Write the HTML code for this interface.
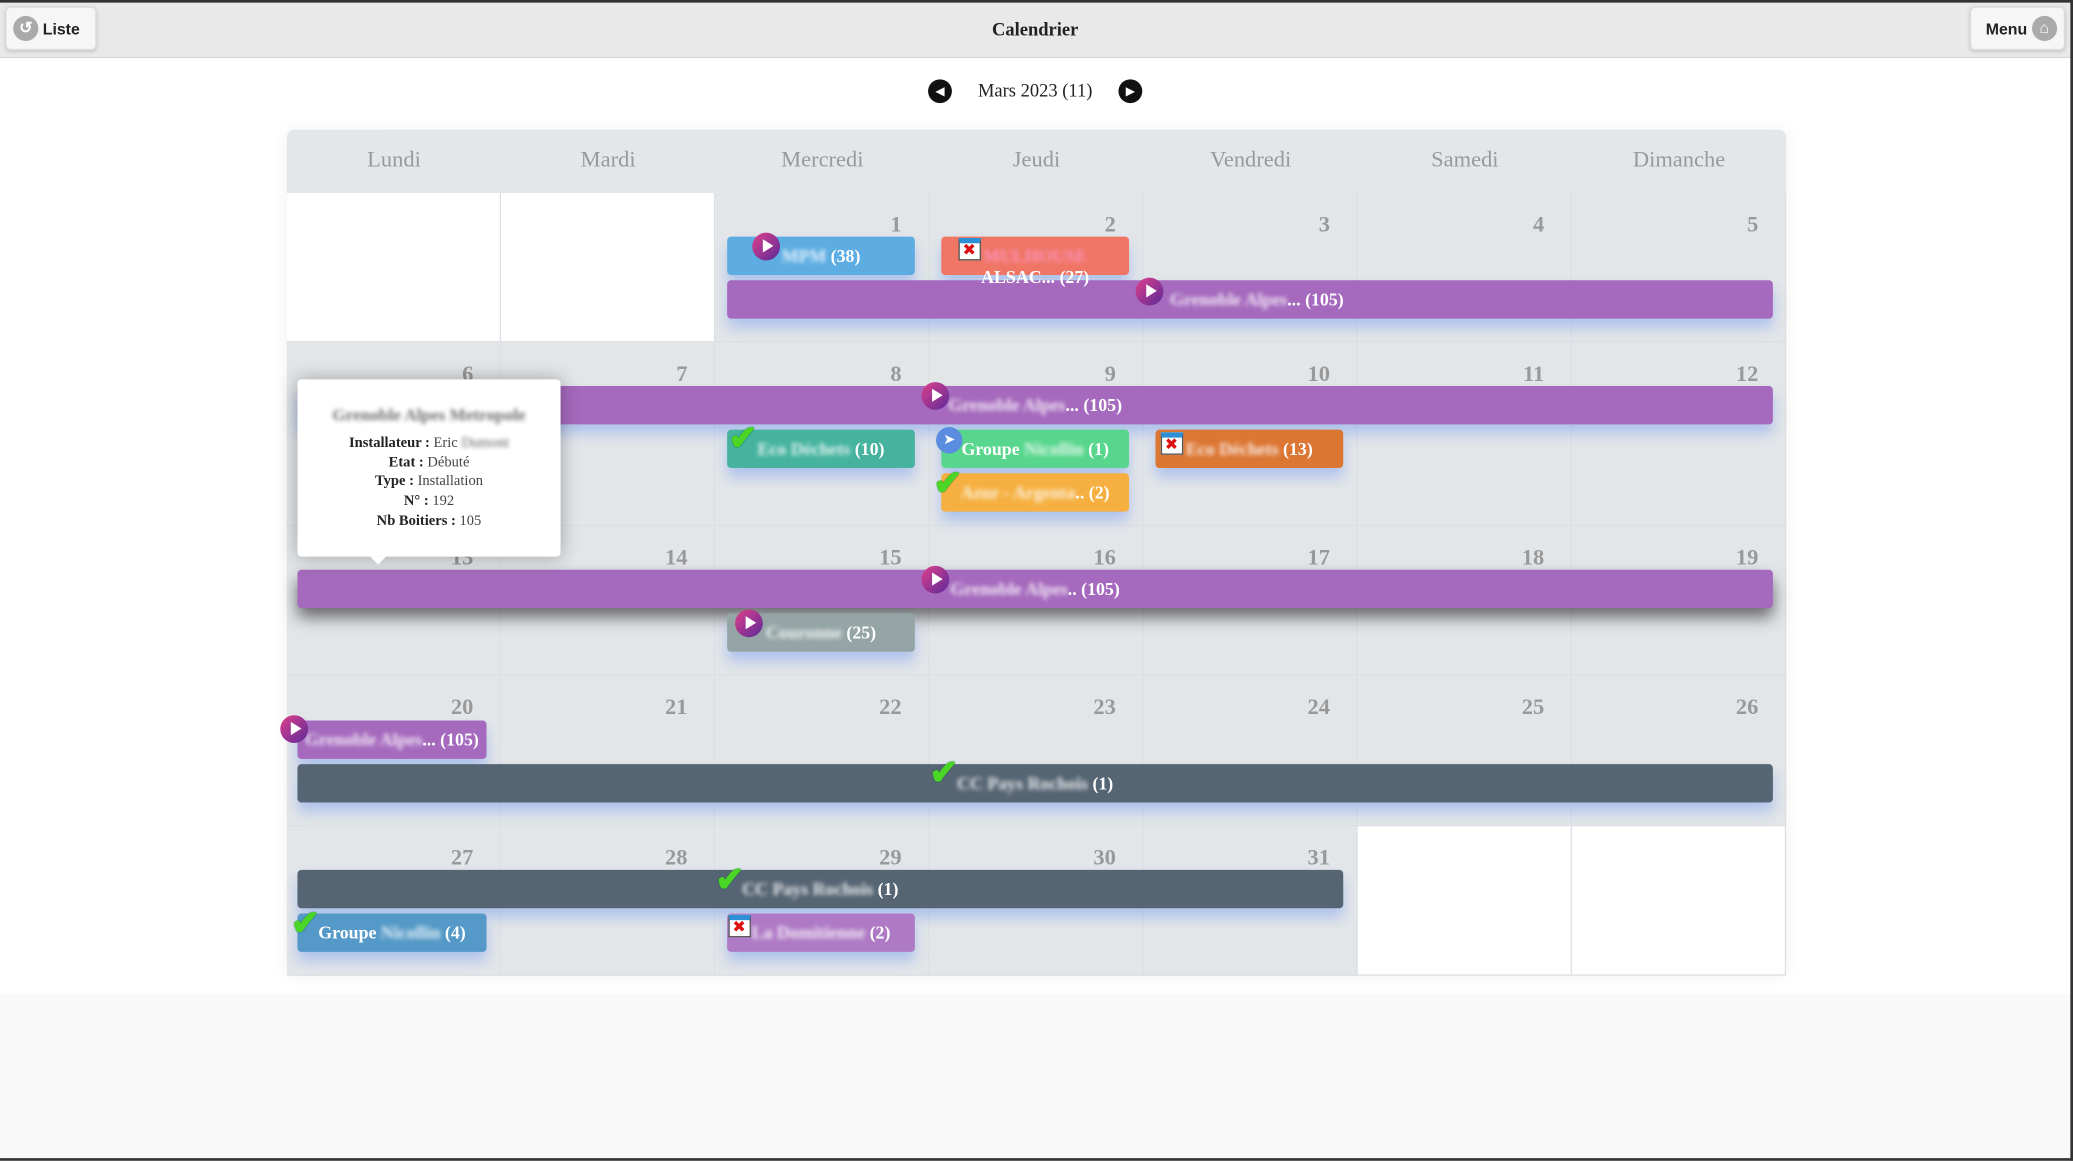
<!DOCTYPE html>
<html><head><meta charset="utf-8"><style>
*{box-sizing:border-box;margin:0;padding:0}
html,body{width:2073px;height:1161px;overflow:hidden;background:#f9f9f9}
#w{position:absolute;left:0;top:0;width:1568px;height:878px;transform:scale(1.32207);transform-origin:0 0;background:#f9f9f9;font-family:"Liberation Serif",serif}
.abs{position:absolute}
.hdr{left:0;top:0;width:1568px;height:44px;background:#e9e9e9;border-top:2px solid #333;border-bottom:1px solid #d6d6d6}
.btn{top:5px;height:33px;background:#f6f6f6;border:1px solid #ddd;border-radius:4px;box-shadow:0 1px 3px rgba(0,0,0,.15);font:bold 12px "Liberation Sans",sans-serif;color:#222;display:flex;align-items:center}
.ic{width:19px;height:19px;border-radius:50%;background:#aaa;display:inline-block;color:#fff;font-size:12px;text-align:center;line-height:19px}
.main{left:0;top:44px;width:1568px;height:708px;background:#fff}
.cal{left:217px;top:98px;width:1134px;height:640px;border-radius:6px;background:#e4e7ea;box-shadow:0 0 12px rgba(0,0,0,.06);overflow:hidden}
.dn{top:98px;width:162px;height:48px;line-height:46px;text-align:center;color:#999;font-size:17px}
.cell{border-right:1px solid #dcdfe2;border-bottom:1px solid #dcdfe2;background:#e3e6e9}
.cell.o{background:#fff}
.num{font-weight:bold;font-size:17px;color:#999;text-align:right;width:141px}
.ev{height:29px;border-radius:3px;color:#fff;font-weight:bold;font-size:13.5px;line-height:29px;text-align:center;box-shadow:0 7px 10px rgba(110,150,240,.45);white-space:nowrap}
.b{filter:blur(1.6px);opacity:.85}
.play{width:21px;height:21px;border-radius:50%;background:linear-gradient(135deg,#e0408a,#5b2a9a);}
.play:after{content:"";position:absolute;left:8px;top:5px;border-left:8px solid #fff;border-top:5.5px solid transparent;border-bottom:5.5px solid transparent}
.chk{color:#4bd626;font-size:26px;font-weight:bold;line-height:26px;text-shadow:0 0 1px #063}
.cx{width:17px;height:17px;background:#fff;border:1px solid #555;border-top:4px solid #2d8fd5}
.cx:after{content:"✖";position:absolute;left:2px;top:-2px;color:#d11;font-size:12px}
.tip{left:225px;top:287px;width:199px;height:134px;background:#fff;border-radius:3px;box-shadow:0 0 14px rgba(0,0,0,.3);text-align:center;font-size:11px;color:#444;line-height:14.8px;padding-top:20px}
.tip b{color:#222}
</style></head><body><div id="w">
<div class="abs hdr"></div>
<div class="abs btn" style="left:4px;width:69px;padding-left:5px"><span class="ic">↺</span>&nbsp;Liste</div>
<div class="abs" style="left:683px;width:200px;top:16px;text-align:center;font-weight:bold;font-size:14px;color:#222">Calendrier</div>
<div class="abs btn" style="left:1490px;width:72px;padding-left:11px">Menu&nbsp;<span class="ic">⌂</span></div>
<div class="abs main"></div>
<div class="abs" style="left:702px;top:60px;width:18px;height:18px;border-radius:50%;background:#111;color:#fff;font-size:9px;line-height:18px;text-align:center">◀</div>
<div class="abs" style="left:846px;top:60px;width:18px;height:18px;border-radius:50%;background:#111;color:#fff;font-size:9px;line-height:18px;text-align:center">▶</div>
<div class="abs" style="left:720px;width:126px;top:62px;text-align:center;font-size:14px;color:#222">Mars 2023 (11)</div>
<div class="abs cal"></div>
<div class="abs dn" style="left:217px">Lundi</div><div class="abs dn" style="left:379px">Mardi</div><div class="abs dn" style="left:541px">Mercredi</div><div class="abs dn" style="left:703px">Jeudi</div><div class="abs dn" style="left:865px">Vendredi</div><div class="abs dn" style="left:1027px">Samedi</div><div class="abs dn" style="left:1189px">Dimanche</div>
<div id="cells"></div>
<script>
var rows=[[146,113],[259,139],[398,113],[511,114],[625,113]];var h='';var d=-2;
for(var r=0;r<5;r++)for(var c=0;c<7;c++){d++;var n=d;var o=(n<1||n>31);var x=217+c*162;
h+='<div class="abs cell'+(o?' o':'')+'" style="left:'+x+'px;top:'+rows[r][0]+'px;width:162px;height:'+rows[r][1]+'px"></div>';
if(!o)h+='<div class="abs num" style="left:'+x+'px;top:'+(rows[r][0]+14)+'px">'+n+'</div>';}
document.getElementById('cells').innerHTML=h;
</script>
<!-- row1 -->
<div class="abs ev" style="left:550px;top:179px;width:142px;background:#5dade2"><span class="b">MPM</span> (38)</div>
<div class="abs ev" style="left:712px;top:179px;width:142px;background:#ef7564"><span class="b" style="color:#f9c">MULHOUSE</span></div>
<div class="abs ev" style="left:550px;top:212px;width:791px;background:#a569bd;padding-left:335px;text-align:left;z-index:0"><span class="b">Grenoble Alpes</span>... (105)</div>
<div class="abs ev" style="left:712px;top:202px;width:142px;background:none;box-shadow:none;line-height:16px">ALSAC... (27)</div>
<div class="abs play" style="left:569px;top:176px"></div>
<div class="abs cx" style="left:725px;top:180px"></div>
<div class="abs play" style="left:859px;top:210px"></div>
<!-- row2 -->
<div class="abs ev" style="left:225px;top:292px;width:1116px;background:#a569bd"><span class="b">Grenoble Alpes</span>... (105)</div>
<div class="abs play" style="left:697px;top:289px"></div>
<div class="abs ev" style="left:550px;top:325px;width:142px;background:#45b39d"><span class="b">Eco Déchets</span> (10)</div>
<div class="abs ev" style="left:712px;top:325px;width:142px;background:#58d68d">Groupe <span class="b">Nicollin</span> (1)</div>
<div class="abs ev" style="left:874px;top:325px;width:142px;background:#dc7633"><span class="b">Eco Déchets</span> (13)</div>
<div class="abs ev" style="left:712px;top:358px;width:142px;background:#f5b041"><span class="b">Azur - Argenta</span>.. (2)</div>
<div class="abs chk" style="left:551px;top:319px">✔</div>
<div class="abs" style="left:708px;top:323px;width:20px;height:20px;border-radius:50%;background:#5a8de0;color:#fff;font-size:11px;line-height:20px;text-align:center">➤</div>
<div class="abs cx" style="left:878px;top:327px"></div>
<div class="abs chk" style="left:706px;top:353px">✔</div>
<!-- row3 -->
<div class="abs ev" style="left:225px;top:431px;width:1116px;background:#a569bd;box-shadow:0 7px 12px rgba(0,0,0,.55)"><span class="b">Grenoble Alpes</span>.. (105)</div>
<div class="abs play" style="left:697px;top:428px"></div>
<div class="abs ev" style="left:550px;top:464px;width:142px;background:#95a5a6"><span class="b">Couronne</span> (25)</div>
<div class="abs play" style="left:556px;top:461px"></div>
<!-- row4 -->
<div class="abs ev" style="left:225px;top:545px;width:143px;background:#a569bd"><span class="b">Grenoble Alpes</span>... (105)</div>
<div class="abs play" style="left:212px;top:541px"></div>
<div class="abs ev" style="left:225px;top:578px;width:1116px;background:#566573"><span class="b">CC Pays Rochois</span> (1)</div>
<div class="abs chk" style="left:703px;top:572px">✔</div>
<!-- row5 -->
<div class="abs ev" style="left:225px;top:658px;width:791px;background:#566573"><span class="b">CC Pays Rochois</span> (1)</div>
<div class="abs chk" style="left:541px;top:653px">✔</div>
<div class="abs ev" style="left:225px;top:691px;width:143px;background:#5499c7">Groupe <span class="b">Nicollin</span> (4)</div>
<div class="abs chk" style="left:220px;top:686px">✔</div>
<div class="abs ev" style="left:550px;top:691px;width:142px;background:#af7ac5"><span class="b">La Domitienne</span> (2)</div>
<div class="abs cx" style="left:551px;top:692px"></div>
<!-- tooltip -->
<div class="abs tip"><div class="b" style="font-weight:bold;font-size:13px;color:#555;margin-bottom:6px">Grenoble Alpes Metropole</div>
<div><b>Installateur :</b> Eric <span class="b">Dumont</span></div><div><b>Etat :</b> Débuté</div><div><b>Type :</b> Installation</div><div><b>N° :</b> 192</div><div><b>Nb Boitiers :</b> 105</div></div>
<div class="abs" style="left:280px;top:421px;border-top:6px solid #fff;border-left:6px solid transparent;border-right:6px solid transparent"></div>
<div class="abs" style="left:1566px;top:0;width:2px;height:878px;background:#333"></div>
<div class="abs" style="left:0;top:876px;width:1568px;height:2px;background:#333"></div>
</div></body></html>
